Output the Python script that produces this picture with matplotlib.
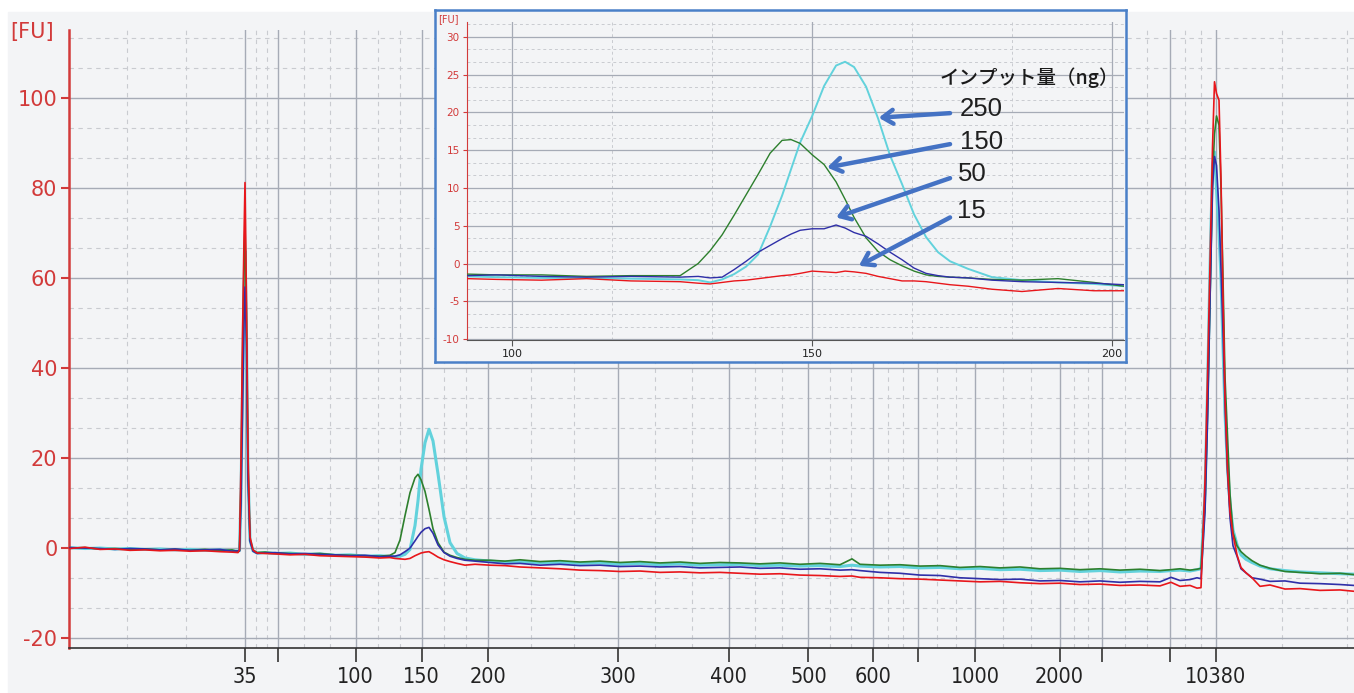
import numpy as np
import matplotlib.pyplot as plt
from matplotlib.patches import Rectangle
from matplotlib import font_manager

plt.rcParams['font.family'] = ['DejaVu Sans', 'Noto Sans CJK JP']

# condensed face for the bp labels if one is installed
try:
    font_manager.findfont(font_manager.FontProperties(family='Liberation Sans Narrow'),
                          fallback_to_default=False)
    XFONT = dict(family='Liberation Sans Narrow')
except Exception:
    XFONT = dict(family='DejaVu Sans', stretch='condensed')

# ladder sizes (bp) and their migration positions on the main run axis
ladder_labels = ['35', '', '100', '150', '200', '300', '400', '500', '600', '', '1000', '2000', '', '', '10380']
ladder_pos = [245, 277.7, 355.6, 421.5, 487.9, 617.6, 728.6, 808.4, 873, 918, 975.3, 1059.5, 1102.4, 1170, 1215.8]

# main electropherogram, fluorescence [FU] against migration position
pos = [70, 85, 100, 115, 130, 145, 160, 175, 190, 205, 220, 232, 238,
       239.5, 241, 242.5, 244, 245, 246.5, 248, 250, 253, 257,
       265, 275, 290, 305, 320, 335, 350, 365, 380, 390,
       395, 400, 405, 410, 415, 418, 421, 425, 429, 433, 438, 444, 450, 457, 465, 475,
       490, 505, 520, 540, 560, 580, 600, 620, 640, 660, 680, 700, 720, 740, 760, 780, 800, 820,
       840, 852, 860, 880, 900, 920, 940, 960, 980, 1000, 1020, 1040, 1060, 1080, 1100, 1120,
       1140, 1160, 1171, 1180, 1190, 1197, 1201,
       1205, 1207.5, 1210, 1212.5, 1214.5, 1216.5, 1219, 1221, 1223, 1225, 1227.5, 1230, 1233,
       1237, 1241, 1246, 1252, 1260, 1270, 1285, 1300, 1320, 1340, 1354]

fu_250 = [0.1, -0.1, 0.0, -0.2, -0.1, -0.3, -0.2, -0.4, -0.3, -0.5, -0.4, -0.6, -0.7,
          -0.5, 12, 35, 58, 66, 47, 17, 1.8, -0.6, -1.1,
          -1.0, -1.2, -1.1, -1.4, -1.3, -1.6, -1.5, -1.8, -1.7, -1.9,
          -1.9, -1.8, -1.4, -0.3, 5.0, 10.5, 17.5, 23.4, 26.4, 23.8, 16.5, 7.0, 1.2, -1.2, -2.2, -2.6,
          -2.9, -3.1, -3.0, -3.3, -3.2, -3.4, -3.3, -3.6, -3.4, -3.7, -3.5, -3.8, -3.7, -3.6, -3.9,
          -3.8, -4.0, -3.9, -4.1, -3.8, -4.0, -4.2, -4.1, -4.4, -4.3, -4.6, -4.5, -4.8, -4.7, -5.0,
          -4.9, -5.2, -5.0, -5.3, -5.1, -5.2, -5.0, -4.9, -5.1, -4.8, -4.6,
          12, 35, 62, 85, 88, 80, 70, 60, 45, 30, 18, 10, 4, 0.8, -1.5, -2.5, -3.2, -4.0, -4.6,
          -5.0, -5.3, -5.5, -5.7, -5.8]
fu_150 = [0.0, 0.1, -0.2, -0.1, -0.3, -0.2, -0.4, -0.3, -0.5, -0.3, -0.6, -0.4, -0.8,
          -0.6, 15, 40, 62, 72.5, 50, 18, 2, -0.5, -1.0,
          -0.9, -1.1, -1.2, -1.3, -1.2, -1.5, -1.6, -1.7, -1.8, -1.6,
          -1.0, 1.8, 7.2, 12.3, 15.6, 16.4, 15.2, 12.6, 8.6, 4.3, 1.2, -0.9, -1.6, -2.1, -2.5, -2.7,
          -2.7, -2.9, -2.6, -3.0, -2.8, -3.1, -2.9, -3.2, -3.0, -3.3, -3.1, -3.4, -3.2, -3.3, -3.5,
          -3.3, -3.6, -3.4, -3.7, -2.4, -3.6, -3.8, -3.7, -4.0, -3.9, -4.3, -4.1, -4.4, -4.2, -4.6,
          -4.5, -4.8, -4.6, -4.9, -4.7, -5.0, -4.8, -4.6, -4.9, -4.7, -4.5,
          10, 30, 55, 82, 92, 96, 94, 80, 60, 38, 25, 12, 3.5, 0.5, -0.8, -1.8, -2.8, -3.8, -4.5,
          -5.2, -5.4, -5.7, -5.6, -5.9]
fu_50 = [0.1, 0.0, -0.1, -0.3, -0.1, -0.2, -0.4, -0.2, -0.5, -0.4, -0.3, -0.7, -0.6,
         -0.7, 10, 30, 50, 58, 45, 15, 1.5, -0.7, -1.2,
         -1.1, -1.0, -1.3, -1.2, -1.4, -1.5, -1.7, -1.6, -1.9, -1.8,
         -1.8, -1.5, -0.8, 0.0, 1.6, 2.6, 3.5, 4.3, 4.6, 3.3, 0.7, -1.0, -1.8, -2.3, -2.7, -2.9,
         -3.2, -3.5, -3.4, -3.8, -3.6, -3.9, -3.8, -4.1, -4.0, -4.2, -4.1, -4.4, -4.3, -4.2, -4.5,
         -4.4, -4.7, -4.6, -4.9, -4.8, -5.0, -5.4, -5.6, -6.0, -6.1, -6.6, -6.8, -7.0, -6.9, -7.3,
         -7.2, -7.5, -7.3, -7.6, -7.4, -7.5, -6.5, -7.2, -7.0, -6.6, -6.8,
         8, 28, 55, 80, 87, 85, 75, 62, 48, 32, 17, 6.7, 0.5, -1.8, -4.6, -5.5, -6.6, -6.9, -7.4,
         -7.3, -7.8, -7.9, -8.1, -8.3]
fu_15 = [-0.1, 0.2, -0.3, -0.2, -0.5, -0.4, -0.6, -0.5, -0.7, -0.6, -0.8, -0.9, -1.0,
         -0.4, 19.6, 47, 69, 81.2, 54.4, 21, 2.5, -0.4, -1.1,
         -1.2, -1.3, -1.5, -1.4, -1.7, -1.8, -1.9, -2.0, -2.2, -2.1,
         -2.3, -2.4, -2.5, -2.3, -1.7, -1.4, -1.1, -0.9, -0.8, -1.3, -2.0, -2.6, -3.0, -3.4, -3.8, -3.6,
         -3.8, -3.9, -4.2, -4.4, -4.6, -4.9, -5.0, -5.2, -5.1, -5.4, -5.3, -5.5, -5.4, -5.6, -5.8,
         -5.7, -6.0, -6.1, -6.3, -6.2, -6.5, -6.6, -6.8, -6.9, -7.1, -7.3, -7.5, -7.4, -7.7, -7.9,
         -7.8, -8.1, -8.0, -8.3, -8.2, -8.4, -7.6, -8.5, -8.3, -8.9, -8.8,
         15, 38, 63, 89, 103.6, 101, 99.5, 82, 56, 33.4, 17.5, 8.1, 3.0, -1.5, -4.3, -5.5, -6.6,
         -8.5, -8.2, -9.1, -9.0, -9.4, -9.3, -9.6]

# inset: zoom on the library peak, size in bp
bp = [92.6, 97.5, 104.9, 112.4, 119.8, 128, 131, 133, 135, 137, 139, 141, 143, 145, 146.5, 148,
      150, 152, 154, 155.5, 157, 159, 161, 163, 165, 167, 169, 171, 173, 176, 180, 185, 191, 197, 202]
in_150 = [-1.4, -1.5, -1.5, -1.7, -1.6, -1.6, 0.0, 1.7, 3.8, 6.4, 9.1, 11.8, 14.6, 16.3, 16.4, 15.9,
          14.4, 13.1, 10.8, 8.5, 6.1, 3.4, 1.6, 0.5, -0.3, -1.0, -1.5, -1.7, -1.8, -1.9, -2.1, -2.2,
          -2.0, -2.5, -3.0]
in_250 = [-1.7, -1.8, -1.9, -1.9, -2.0, -2.1, -2.2, -2.5, -2.1, -1.4, -0.4, 1.2, 4.9, 9.0, 12.5, 16.0,
          19.5, 23.5, 26.2, 26.7, 26.0, 23.4, 19.2, 14.3, 10.5, 6.5, 3.5, 1.5, 0.3, -0.7, -1.8, -2.2,
          -2.5, -2.7, -3.0]
in_50 = [-1.6, -1.5, -1.7, -1.8, -1.7, -1.8, -1.7, -1.9, -1.8, -0.8, 0.3, 1.5, 2.4, 3.3, 3.9, 4.4,
         4.6, 4.6, 5.1, 4.7, 4.1, 3.6, 2.6, 1.5, 0.5, -0.6, -1.3, -1.6, -1.8, -1.9, -2.2, -2.4,
         -2.5, -2.6, -2.8]
in_15 = [-2.0, -2.1, -2.2, -2.0, -2.3, -2.4, -2.6, -2.7, -2.5, -2.3, -2.2, -2.0, -1.8, -1.6, -1.5, -1.3,
         -1.0, -1.1, -1.2, -1.0, -1.1, -1.3, -1.7, -2.0, -2.3, -2.3, -2.4, -2.6, -2.8, -3.0, -3.4, -3.7,
         -3.3, -3.6, -3.6]

# annotation: input amount and arrow targets (inset data coords)
input_ng = ['250', '150', '50', '15']
label_bp = [174.6, 174.6, 174.3, 174.1]
label_fu = [20.5, 16.1, 11.8, 7.0]
tail_fu = [19.9, 15.8, 11.3, 6.1]
head_bp = [161.1, 152.5, 154.0, 157.8]
head_fu = [19.3, 12.7, 6.1, -0.3]

AXRED = '#d23a3a'
BG = '#f3f4f6'
MAJ = '#a6abb6'
MIN = '#c9cbd0'
col = {'250': '#62d2dc', '150': '#2d7f2d', '50': '#2f2fa8', '15': '#e8161b'}

fig = plt.figure(figsize=(13.54, 6.93), dpi=100, facecolor='white')
fig.patches.append(Rectangle((8 / 1354, 0), 1, 1 - 12 / 693, transform=fig.transFigure,
                             color=BG, zorder=-10))

xl = (68.5, 1354)
yl = (-22.2, 115.1)
ax = fig.add_axes([68.5 / 1354, 45 / 693, 1 - 68.5 / 1354, 618 / 693])
ax.set_facecolor(BG)
ax.set_xlim(xl)
ax.set_ylim(yl)

# grid: solid at ladder / 20 FU, dashed thirds in between
edges = [xl[0]] + ladder_pos + [1413]
for a, b in zip(edges[:-1], edges[1:]):
    for f in (1 / 3, 2 / 3):
        ax.axvline(a + (b - a) * f, color=MIN, lw=0.8, ls=(0, (4, 4)), zorder=0)
for p in ladder_pos:
    ax.axvline(p, color=MAJ, lw=1.0, zorder=0.5)
yt = np.arange(-20, 101, 20)
for v in np.arange(-20, 115, 20 / 3):
    if round(v / (20 / 3)) % 3:
        ax.axhline(v, color=MIN, lw=0.8, ls=(0, (4, 4)), zorder=0)
for v in yt:
    ax.axhline(v, color=MAJ, lw=1.0, zorder=0.5)

ax.plot(pos, fu_250, color=col['250'], lw=2.2, zorder=2)
ax.plot(pos, fu_150, color=col['150'], lw=1.2, zorder=3)
ax.plot(pos, fu_50, color=col['50'], lw=1.2, zorder=4)
ax.plot(pos, fu_15, color=col['15'], lw=1.2, zorder=5)

ax.set_xticks(ladder_pos)
ax.set_xticklabels(ladder_labels, fontsize=15.5, color='#222222', **XFONT)
ax.set_yticks(yt)
ax.set_yticklabels([str(v) for v in yt], fontsize=15, color=AXRED)
ax.tick_params(axis='x', length=10, width=1.2, color='#333333', direction='out', pad=4)
ax.tick_params(axis='y', length=6, width=1.5, color=AXRED, direction='out', pad=2)
for s in ('top', 'right'):
    ax.spines[s].set_visible(False)
ax.spines['left'].set_color(AXRED)
ax.spines['left'].set_linewidth(1.8)
ax.spines['bottom'].set_color('#333333')
ax.spines['bottom'].set_linewidth(1.2)
fig.text(10 / 1354, 1 - 32 / 693, '[FU]', color=AXRED, fontsize=15, va='center', ha='left')

# inset frame
frame = fig.add_axes([435 / 1354, 331 / 693, 691 / 1354, 352 / 693], zorder=5)
frame.set_facecolor(BG)
frame.set_xticks([])
frame.set_yticks([])
for s in frame.spines.values():
    s.set_color('#4a80c8')
    s.set_linewidth(1.8)

ix = fig.add_axes([466.6 / 1354, 353.5 / 693, (1124 - 466.6) / 1354, (339.5 - 21.7) / 693], zorder=6)
ix.set_facecolor(BG)
ix.set_xlim(92.4, 202)
ix.set_ylim(-10.05, 32)
for v in [116.67, 133.33, 166.67, 183.33]:
    ix.axvline(v, color=MIN, lw=0.7, ls=(0, (3, 3)), zorder=0)
for v in [100, 150, 200]:
    ix.axvline(v, color=MAJ, lw=0.9, zorder=0.5)
for v in np.arange(-10, 32, 5 / 3):
    if round((v + 10) / (5 / 3)) % 3:
        ix.axhline(v, color=MIN, lw=0.7, ls=(0, (3, 3)), zorder=0)
for v in range(-10, 31, 5):
    ix.axhline(v, color=MAJ, lw=0.9, zorder=0.5)

ix.plot(bp, in_250, color=col['250'], lw=1.4, zorder=2)
ix.plot(bp, in_150, color=col['150'], lw=1.0, zorder=3)
ix.plot(bp, in_50, color=col['50'], lw=1.0, zorder=4)
ix.plot(bp, in_15, color=col['15'], lw=1.0, zorder=5)

ix.set_xticks([100, 150, 200])
ix.set_xticklabels(['100', '150', '200'], fontsize=8, color='#222222')
ix.set_yticks(range(-10, 31, 5))
ix.set_yticklabels([str(v) for v in range(-10, 31, 5)], fontsize=7.5, color=AXRED)
ix.tick_params(axis='x', length=4, color='#555555', pad=3)
ix.tick_params(axis='y', length=3, color=AXRED, pad=2)
for s in ('top', 'right'):
    ix.spines[s].set_visible(False)
ix.spines['left'].set_color(AXRED)
ix.spines['bottom'].set_color('#555555')
fig.text(438 / 1354, 1 - 19 / 693, '[FU]', color=AXRED, fontsize=7, va='center', ha='left', zorder=7)

ix.text(171.3, 24.6, 'インプット量（ng）', fontsize=14, fontweight='medium', va='center', ha='left',
        color='#1a1a1a', family=['Noto Sans CJK JP', 'DejaVu Sans'], zorder=10, clip_on=False)
for lab, lx, ly, ty, hx, hy in zip(input_ng, label_bp, label_fu, tail_fu, head_bp, head_fu):
    ix.text(lx, ly, lab, fontsize=18.5, va='center', ha='left', color='#1f1f1f',
            family='Liberation Sans', zorder=10)
    ix.annotate('', xy=(hx, hy), xytext=(173.0, ty),
                arrowprops=dict(arrowstyle='->,head_length=0.75,head_width=0.5', color='#4472c4',
                                lw=3.2, shrinkA=0, shrinkB=0), zorder=9)

fig.savefig('out.png', dpi=100, facecolor=fig.get_facecolor())
